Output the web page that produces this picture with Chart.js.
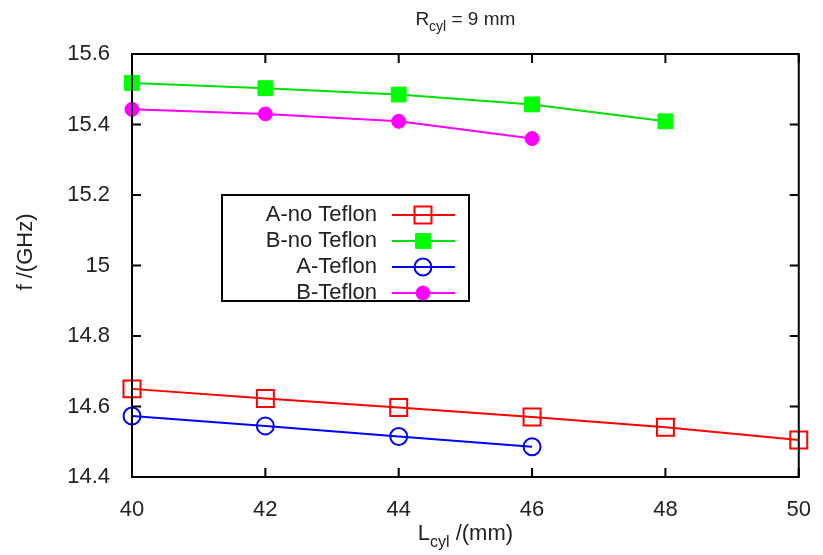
<!DOCTYPE html>
<html>
<head>
<meta charset="utf-8">
<script src="https://cdn.jsdelivr.net/npm/chart.js@4"></script>
<style>
  html, body { margin: 0; padding: 0; background: #fff; }
  canvas { display: block; }
</style>
</head>
<body>
<canvas id="chart" width="823" height="555"></canvas>
<script>
// values
const lengths = [40, 42, 44, 46, 48, 50];
const aNoTeflon = [14.650, 14.623, 14.597, 14.570, 14.541, 14.505];
const bNoTeflon = [15.518, 15.503, 15.485, 15.457, 15.409];
const aTeflon = [14.573, 14.545, 14.515, 14.486];
const bTeflon = [15.443, 15.430, 15.409, 15.360];
const yTicks = [14.4, 14.6, 14.8, 15, 15.2, 15.4, 15.6];

const FONT = '"Liberation Sans", Arial, sans-serif';

function pts(ys) {
    return ys.map((y, i) => ({ x: lengths[i], y: y }));
}

// text with a subscript part: [main, sub, rest]
function subText(ctx, parts, x, y, size) {
    const sub = Math.round(size * 0.72);
    ctx.font = size + 'px ' + FONT;
    const w0 = ctx.measureText(parts[0]).width;
    const w2 = ctx.measureText(parts[2]).width;
    ctx.font = sub + 'px ' + FONT;
    const w1 = ctx.measureText(parts[1]).width;
    const sx = x - (w0 + w1 + w2) / 2;
    ctx.textAlign = 'left';
    ctx.textBaseline = 'alphabetic';
    ctx.font = size + 'px ' + FONT;
    ctx.fillText(parts[0], sx, y);
    ctx.fillText(parts[2], sx + w0 + w1, y);
    ctx.font = sub + 'px ' + FONT;
    ctx.fillText(parts[1], sx + w0, y + size * 0.3);
}

const framePlugin = {
    id: 'frame',
    afterDraw(chart) {
        const ctx = chart.ctx;
        const a = chart.chartArea;
        const xs = chart.scales.x, ys = chart.scales.y;
        ctx.save();
        ctx.strokeStyle = '#000';
        ctx.lineWidth = 2;
        ctx.strokeRect(a.left, a.top, a.right - a.left, a.bottom - a.top);
        ctx.beginPath();
        const tl = 9;
        lengths.forEach(v => {
            const px = xs.getPixelForValue(v);
            ctx.moveTo(px, a.bottom); ctx.lineTo(px, a.bottom - tl);
            ctx.moveTo(px, a.top); ctx.lineTo(px, a.top + tl);
        });
        yTicks.forEach(v => {
            const py = ys.getPixelForValue(v);
            ctx.moveTo(a.left, py); ctx.lineTo(a.left + tl, py);
            ctx.moveTo(a.right, py); ctx.lineTo(a.right - tl, py);
        });
        ctx.stroke();

        // titles
        const cx = (a.left + a.right) / 2;
        ctx.fillStyle = '#222';
        subText(ctx, ['R', 'cyl', ' = 9 mm'], cx, 25, 19);
        subText(ctx, ['L', 'cyl', ' /(mm)'], cx, 540, 22);
        ctx.save();
        ctx.translate(32, 252);
        ctx.rotate(-Math.PI / 2);
        ctx.font = '22px ' + FONT;
        ctx.textAlign = 'center';
        ctx.textBaseline = 'alphabetic';
        ctx.fillText('f /(GHz)', 0, 0);
        ctx.restore();

        // legend box
        const bx = 222, by = 195, bw = 247, bh = 106;
        ctx.lineWidth = 2;
        ctx.strokeStyle = '#000';
        ctx.strokeRect(bx, by, bw, bh);
        chart.data.datasets.forEach((ds, i) => {
            const ry = by + 20 + i * 26;
            ctx.fillStyle = '#222';
            ctx.font = '22px ' + FONT;
            ctx.textAlign = 'right';
            ctx.textBaseline = 'middle';
            ctx.fillText(ds.label, 377, ry);
            ctx.strokeStyle = ds.borderColor;
            ctx.lineWidth = ds.borderWidth;
            ctx.beginPath();
            ctx.moveTo(392, ry); ctx.lineTo(455, ry);
            ctx.stroke();
            ctx.fillStyle = ds.pointBackgroundColor;
            ctx.strokeStyle = ds.pointBorderColor;
            ctx.lineWidth = ds.pointBorderWidth;
            Chart.helpers.drawPoint(ctx, {
                pointStyle: ds.pointStyle,
                radius: ds.pointRadius,
                rotation: 0,
                borderWidth: ds.pointBorderWidth
            }, 423, ry);
        });
        ctx.restore();
    }
};

new Chart(document.getElementById('chart'), {
    type: 'line',
    data: {
        datasets: [{
            label: 'A-no Teflon',
            data: pts(aNoTeflon),
            borderColor: '#ff0000',
            borderWidth: 2,
            pointStyle: 'rect',
            pointRadius: 12,
            pointBorderWidth: 2,
            pointBorderColor: '#ff0000',
            pointBackgroundColor: 'rgba(0,0,0,0)'
        }, {
            label: 'B-no Teflon',
            data: pts(bNoTeflon),
            borderColor: '#00e000',
            borderWidth: 2,
            pointStyle: 'rect',
            pointRadius: 10.5,
            pointBorderWidth: 1,
            pointBorderColor: '#00ff00',
            pointBackgroundColor: '#00ff00'
        }, {
            label: 'A-Teflon',
            data: pts(aTeflon),
            borderColor: '#0000ff',
            borderWidth: 2,
            pointStyle: 'circle',
            pointRadius: 8.5,
            pointBorderWidth: 2,
            pointBorderColor: '#0000ff',
            pointBackgroundColor: 'rgba(0,0,0,0)'
        }, {
            label: 'B-Teflon',
            data: pts(bTeflon),
            borderColor: '#ff00ff',
            borderWidth: 2,
            pointStyle: 'circle',
            pointRadius: 7,
            pointBorderWidth: 1,
            pointBorderColor: '#ff00ff',
            pointBackgroundColor: '#ff00ff'
        }]
    },
    options: {
        responsive: false,
        animation: false,
        clip: false,
        layout: { padding: { left: 0, right: 18, top: 54, bottom: 0 } },
        plugins: { legend: { display: false }, tooltip: { enabled: false } },
        scales: {
            x: {
                type: 'linear',
                min: 40, max: 50,
                afterBuildTicks: s => { s.ticks = lengths.map(v => ({ value: v })); },
                afterFit: s => { s.height = 78; },
                grid: { display: false },
                border: { display: false },
                ticks: { color: '#222', padding: 12, font: { family: FONT, size: 22 }, maxRotation: 0 }
            },
            y: {
                min: 14.4, max: 15.6,
                afterBuildTicks: s => { s.ticks = yTicks.map(v => ({ value: v })); },
                afterFit: s => { s.width = 132; },
                grid: { display: false },
                border: { display: false },
                ticks: {
                    color: '#222', padding: 14, font: { family: FONT, size: 22 },
                    callback: v => String(Number(v.toFixed(1)))
                }
            }
        }
    },
    plugins: [framePlugin]
});
</script>
</body>
</html>
